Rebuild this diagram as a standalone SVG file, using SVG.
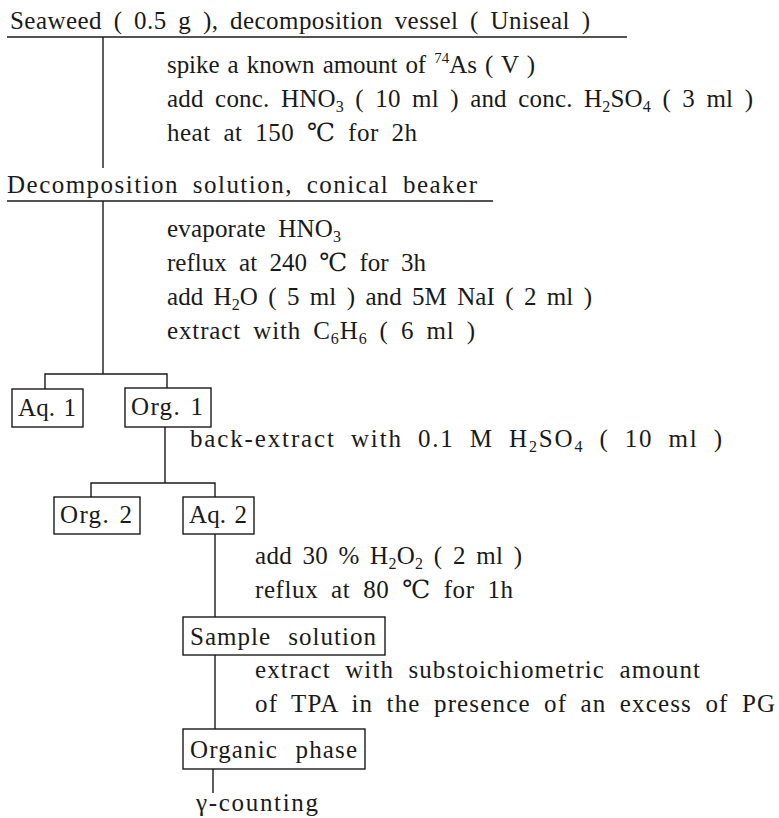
<svg xmlns="http://www.w3.org/2000/svg" width="779" height="818" viewBox="0 0 779 818">
  <style>
    text { font-family: "Liberation Serif", "DejaVu Serif", "Noto Sans CJK JP", serif; font-size: 25px; fill: #1a1a1a; word-spacing: 3px; }
    .box text { font-size: 25px; word-spacing: 2px; }
    .sub { font-size: 16px; }
    .sup { font-size: 15px; }
    .ln { stroke: #1a1a1a; stroke-width: 1.4; fill: none; }
    .frame { stroke: #1a1a1a; stroke-width: 1.4; fill: none; }
  </style>
  <rect x="0" y="0" width="779" height="818" fill="#ffffff"/>

  <!-- connectors: rules, trunks and branch brackets -->
  <g id="connectors">
    <path class="ln" d="M7,37 H627"/>
    <path class="ln" d="M103,37 V168"/>
    <path class="ln" d="M7,201 H493"/>
    <path class="ln" d="M103,201 V374"/>
    <path class="ln" d="M45,389 V374 H167 V388"/>
    <path class="ln" d="M165,427 V483"/>
    <path class="ln" d="M91,497 V483 H215 V497"/>
    <path class="ln" d="M215,534 V617"/>
    <path class="ln" d="M215,655 V729"/>
    <path class="ln" d="M213,769 V793"/>
  </g>

  <g id="seaweed">
    <text x="10" y="29" style="word-spacing:5px" textLength="580" lengthAdjust="spacing">Seaweed ( 0.5 g ), decomposition vessel ( Uniseal )</text>
  </g>

  <g id="step-decompose">
    <text x="167" y="73" style="word-spacing:2px" textLength="368" lengthAdjust="spacing">spike a known amount of <tspan class="sup" dy="-10">74</tspan><tspan dy="10">As ( V )</tspan></text>
    <text x="167" y="107" style="word-spacing:5px" textLength="586" lengthAdjust="spacing">add conc. HNO<tspan class="sub" dy="5">3</tspan><tspan dy="-5"> ( 10 ml ) and conc. H</tspan><tspan class="sub" dy="5">2</tspan><tspan dy="-5">SO</tspan><tspan class="sub" dy="5">4</tspan><tspan dy="-5"> ( 3 ml )</tspan></text>
    <text x="167" y="141" style="word-spacing:6px" textLength="250" lengthAdjust="spacing">heat at 150 ℃ for 2h</text>
  </g>

  <g id="decomposition-solution">
    <text x="7" y="193" style="word-spacing:6px" textLength="470" lengthAdjust="spacing">Decomposition solution, conical beaker</text>
  </g>

  <g id="step-extract">
    <text x="167" y="237" style="word-spacing:6px" textLength="174" lengthAdjust="spacing">evaporate HNO<tspan class="sub" dy="5">3</tspan></text>
    <text x="167" y="271" style="word-spacing:6px" textLength="259" lengthAdjust="spacing">reflux at 240 ℃ for 3h</text>
    <text x="167" y="305" style="word-spacing:4px" textLength="425" lengthAdjust="spacing">add H<tspan class="sub" dy="5">2</tspan><tspan dy="-5">O ( 5 ml ) and 5M NaI ( 2 ml )</tspan></text>
    <text x="167" y="339" style="word-spacing:5px" textLength="308" lengthAdjust="spacing">extract with C<tspan class="sub" dy="5">6</tspan><tspan dy="-5">H</tspan><tspan class="sub" dy="5">6</tspan><tspan dy="-5"> ( 6 ml )</tspan></text>
  </g>

  <g id="aq1" class="box">
    <rect class="frame" x="12" y="389" width="71" height="38"/>
    <text x="18" y="416" textLength="58" lengthAdjust="spacing">Aq. 1</text>
  </g>

  <g id="org1" class="box">
    <rect class="frame" x="125" y="388" width="86" height="39"/>
    <text x="131" y="415" textLength="72" lengthAdjust="spacing">Org. 1</text>
  </g>

  <g id="step-back-extract">
    <text x="190" y="447" style="word-spacing:7px" textLength="532" lengthAdjust="spacing">back-extract with 0.1 M H<tspan class="sub" dy="5">2</tspan><tspan dy="-5">SO</tspan><tspan class="sub" dy="5">4</tspan><tspan dy="-5"> ( 10 ml )</tspan></text>
  </g>

  <g id="org2" class="box">
    <rect class="frame" x="54" y="497" width="86" height="37"/>
    <text x="60" y="523" textLength="72" lengthAdjust="spacing">Org. 2</text>
  </g>

  <g id="aq2" class="box">
    <rect class="frame" x="183" y="497" width="71" height="37"/>
    <text x="189" y="523" textLength="58" lengthAdjust="spacing">Aq. 2</text>
  </g>

  <g id="step-oxidise">
    <text x="255" y="564" style="word-spacing:4px" textLength="267" lengthAdjust="spacing">add 30 % H<tspan class="sub" dy="5">2</tspan><tspan dy="-5">O</tspan><tspan class="sub" dy="5">2</tspan><tspan dy="-5"> ( 2 ml )</tspan></text>
    <text x="255" y="598" style="word-spacing:6px" textLength="258" lengthAdjust="spacing">reflux at 80 ℃ for 1h</text>
  </g>

  <g id="sample-solution" class="box">
    <rect class="frame" x="183" y="617" width="202" height="38"/>
    <text x="190" y="645" style="word-spacing:10px" textLength="186" lengthAdjust="spacing">Sample solution</text>
  </g>

  <g id="step-tpa">
    <text x="255" y="678" style="word-spacing:7px" textLength="445" lengthAdjust="spacing">extract with substoichiometric amount</text>
    <text x="255" y="712" style="word-spacing:6px" textLength="520" lengthAdjust="spacing">of TPA in the presence of an excess of PG</text>
  </g>

  <g id="organic-phase" class="box">
    <rect class="frame" x="183" y="729" width="182" height="40"/>
    <text x="190" y="758" style="word-spacing:10px" textLength="167" lengthAdjust="spacing">Organic phase</text>
  </g>

  <g id="gamma-counting">
    <text x="196" y="811" textLength="122" lengthAdjust="spacing">γ-counting</text>
  </g>
</svg>
